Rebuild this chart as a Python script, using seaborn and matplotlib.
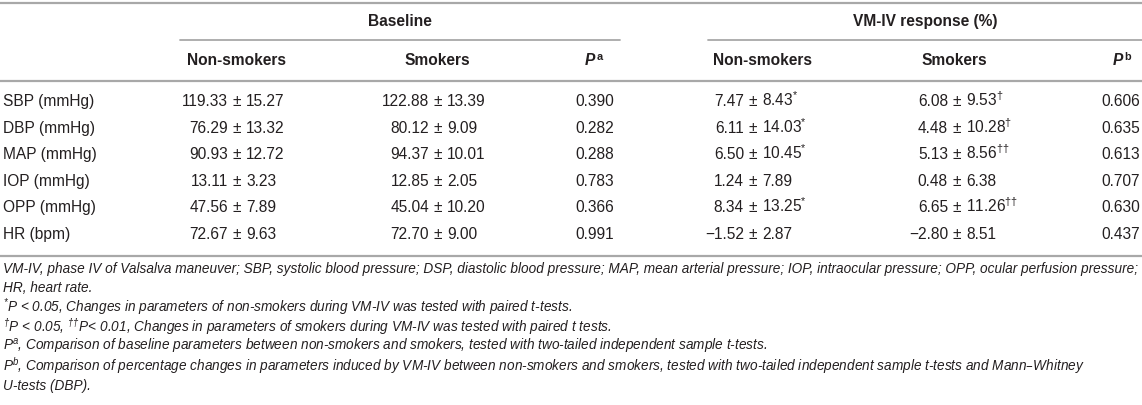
import pandas as pd
import seaborn as sns
import matplotlib.pyplot as plt

sns.set_theme(style="white")
plt.rcParams["font.family"] = ["Liberation Sans", "DejaVu Sans"]
plt.rcParams["mathtext.default"] = "regular"

params = ["SBP (mmHg)", "DBP (mmHg)", "MAP (mmHg)", "IOP (mmHg)", "OPP (mmHg)", "HR (bpm)"]
base_non_mean = [119.33, 76.29, 90.93, 13.11, 47.56, 72.67]
base_non_sd = [15.27, 13.32, 12.72, 3.23, 7.89, 9.63]
base_smk_mean = [122.88, 80.12, 94.37, 12.85, 45.04, 72.70]
base_smk_sd = [13.39, 9.09, 10.01, 2.05, 10.20, 9.00]
p_a = [0.390, 0.282, 0.288, 0.783, 0.366, 0.991]
vm_non_mean = [7.47, 6.11, 6.50, 1.24, 8.34, -1.52]
vm_non_sd = [8.43, 14.03, 10.45, 7.89, 13.25, 2.87]
vm_non_sig = ["*", "*", "*", "", "*", ""]
vm_smk_mean = [6.08, 4.48, 5.13, 0.48, 6.65, -2.80]
vm_smk_sd = [9.53, 10.28, 8.56, 6.38, 11.26, 8.51]
vm_smk_sig = ["†", "†", "††", "", "††", ""]
p_b = [0.606, 0.635, 0.613, 0.707, 0.630, 0.437]

footnotes = [
    "VM-IV, phase IV of Valsalva maneuver; SBP, systolic blood pressure; DSP, diastolic blood pressure; "
    "MAP, mean arterial pressure; IOP, intraocular pressure; OPP, ocular perfusion pressure;",
    "HR, heart rate.",
    r"$\mathregular{^{*}}$P < 0.05, Changes in parameters of non-smokers during VM-IV was tested with paired t-tests.",
    r"$\mathregular{^{†}}$P < 0.05, $\mathregular{^{††}}$P< 0.01, Changes in parameters of smokers during VM-IV "
    "was tested with paired t tests.",
    r"P$\mathregular{^{a}}$, Comparison of baseline parameters between non-smokers and smokers, "
    "tested with two-tailed independent sample t-tests.",
    r"P$\mathregular{^{b}}$, Comparison of percentage changes in parameters induced by VM-IV between non-smokers "
    "and smokers, tested with two-tailed independent sample t-tests and Mann–Whitney",
    "U-tests (DBP).",
]

df = pd.DataFrame({
    "param": params,
    "bn_m": base_non_mean, "bn_s": base_non_sd,
    "bs_m": base_smk_mean, "bs_s": base_smk_sd,
    "pa": p_a,
    "vn_m": vm_non_mean, "vn_s": vm_non_sd, "vn_sig": vm_non_sig,
    "vs_m": vm_smk_mean, "vs_s": vm_smk_sd, "vs_sig": vm_smk_sig,
    "pb": p_b,
})


def num(v):
    s = f"{abs(v):.2f}"
    return "\u2212" + s if v < 0 else s


TXT = "#231f20"
LINE = "#a8a8a8"
FS = 11.2

fig = plt.figure(figsize=(11.42, 4.05), dpi=100)
ax = fig.add_axes([0, 0, 1, 1])
ax.set_xlim(0, 1142)
ax.set_ylim(405, 0)
ax.axis("off")

# rules
ax.plot([0, 1142], [3, 3], color=LINE, lw=1.6)
ax.plot([180, 620], [40, 40], color=LINE, lw=1.3)
ax.plot([708, 1142], [40, 40], color=LINE, lw=1.3)
ax.plot([0, 1142], [81, 81], color=LINE, lw=1.6)
ax.plot([0, 1142], [256, 256], color=LINE, lw=1.6)

# headers
ax.text(400, 26, "Baseline", ha="center", va="baseline", fontsize=FS, weight="bold", color=TXT)
ax.text(925, 26, "VM-IV response (%)", ha="center", va="baseline", fontsize=FS, weight="bold", color=TXT)
for x, lab in [(237, "Non-smokers"), (437, "Smokers"), (762, "Non-smokers"), (954, "Smokers")]:
    ax.text(x, 65, lab, ha="center", va="baseline", fontsize=FS, weight="bold", color=TXT)
for x, letter in [(590, "a"), (1118, "b")]:
    t = ax.text(x, 65, "P", ha="center", va="baseline", fontsize=FS, weight="bold",
                style="italic", color=TXT)
    ax.annotate(letter, xy=(1, 1), xycoords=t, xytext=(1, 1), textcoords="offset points",
                ha="left", va="top", fontsize=FS * 0.7, weight="bold", color=TXT)


def pm_cell(x, y, m, s, sig=""):
    ax.text(x - 9, y, num(m), ha="right", va="baseline", fontsize=FS, color=TXT)
    ax.text(x, y, "\u00b1", ha="center", va="baseline", fontsize=FS, color=TXT)
    right = num(s) + (r"$\mathregular{^{%s}}$" % sig if sig else "")
    ax.text(x + 9, y, right, ha="left", va="baseline", fontsize=FS, color=TXT)


for i, r in df.iterrows():
    y = 106 + 26.6 * i
    ax.text(3, y, r["param"], ha="left", va="baseline", fontsize=FS, color=TXT)
    pm_cell(237, y, r["bn_m"], r["bn_s"])
    pm_cell(438, y, r["bs_m"], r["bs_s"])
    ax.text(595, y, f"{r['pa']:.3f}", ha="center", va="baseline", fontsize=FS, color=TXT)
    pm_cell(753, y, r["vn_m"], r["vn_s"], r["vn_sig"])
    pm_cell(957, y, r["vs_m"], r["vs_s"], r["vs_sig"])
    ax.text(1140, y, f"{r['pb']:.3f}", ha="right", va="baseline", fontsize=FS, color=TXT)

for j, line in enumerate(footnotes):
    ax.text(3, 273 + 19.5 * j, line, ha="left", va="baseline", fontsize=9.8,
            style="italic", color=TXT)

fig.savefig("out.png", dpi=100, facecolor="white")
